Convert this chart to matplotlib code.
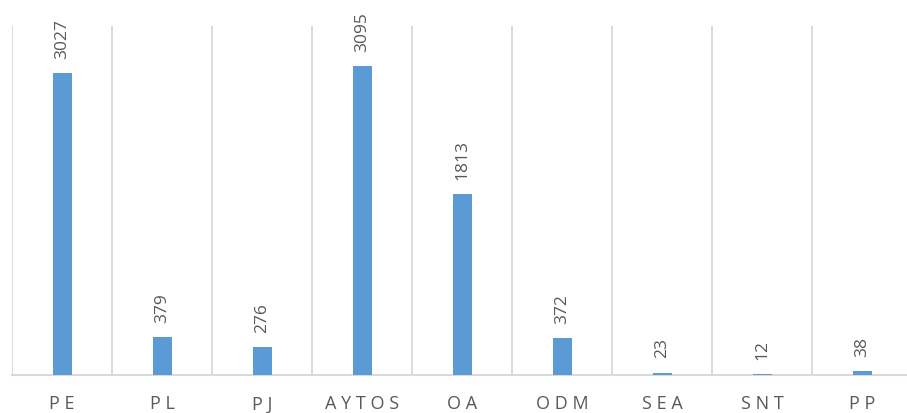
import matplotlib
matplotlib.use("Agg")
import matplotlib.pyplot as plt

categories = ["PE", "PL", "PJ", "AYTOS", "OA", "ODM", "SEA", "SNT", "PP"]
values = [3027, 379, 276, 3095, 1813, 372, 23, 12, 38]

bar_color = "#5B9BD5"
grid_color = "#D9D9D9"
text_color = "#595959"

fig = plt.figure(figsize=(9.07, 4.14), dpi=100)
W, H = 907, 414
left, right, bottom, top = 12, 912, 376, 27
ax = fig.add_axes([left / W, 1 - bottom / H, (right - left) / W, (bottom - top) / H])

x = list(range(len(categories)))
ax.bar(x, values, width=0.19, color=bar_color, zorder=3)
ax.set_xlim(-0.5, len(categories) - 0.5)
ax.set_ylim(0, 3500)

for i in range(len(categories) + 1):
    ax.axvline(i - 0.5, color=grid_color, lw=1.3, zorder=1)

for spine in ["top", "right", "left"]:
    ax.spines[spine].set_visible(False)
ax.spines["bottom"].set_color(grid_color)
ax.spines["bottom"].set_linewidth(1.5)
ax.set_yticks([])

ax.set_xticks(x)
ax.set_xticklabels(["\u2009\u200a".join(c) for c in categories], fontsize=13,
                   color=text_color, family="Open Sans")
ax.tick_params(axis="x", length=0, pad=14)

for xi, v in zip(x, values):
    ax.annotate(str(v), (xi, v), xytext=(0, 11), textcoords="offset points",
                rotation=90, ha="center", va="bottom", fontsize=12.5,
                color=text_color, family="Open Sans")

fig.savefig("out.png", dpi=100)
